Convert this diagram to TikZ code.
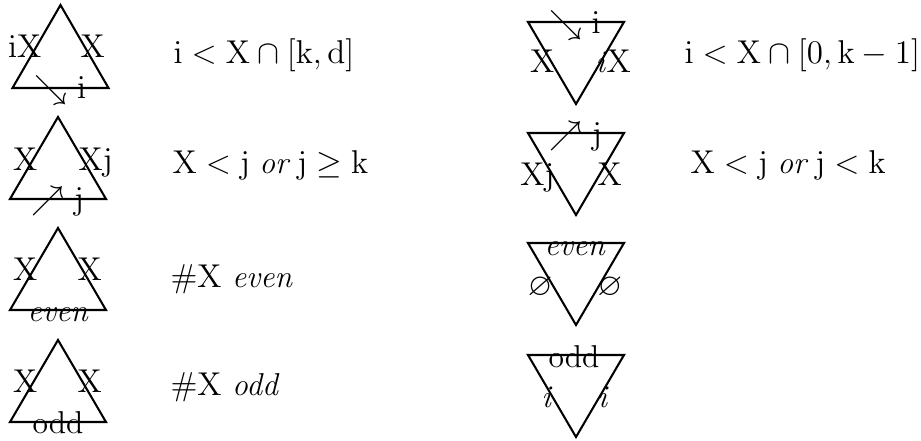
\documentclass[tikz,border=0pt]{standalone}
\usepackage{amssymb}
\newcommand{\rmv}[1]{\mathrm{#1}}
\begin{document}
\begin{tikzpicture}[x=0.3636pt,y=-0.3636pt,
  every node/.style={font=\fontsize{11.5}{14}\selectfont},
  tri/.style={draw,line width=0.75pt,line join=miter},
  lab/.style={inner sep=0pt},
  lbl/.style={lab,anchor=base east},
  rbl/.style={lab,anchor=base west},
  mbl/.style={lab,anchor=base},
  txt/.style={inner sep=0pt,anchor=base west}]
\useasboundingbox (0,0) rectangle (921,440);
% left column triangles
\draw[tri] (12.5,88) -- (60.5,5) -- (108.5,88) -- cycle;
\draw[tri] (10,199) -- (58,117) -- (106,199) -- cycle;
\draw[tri] (10,310) -- (58,228) -- (106,310) -- cycle;
\draw[tri] (10,422) -- (58,340) -- (106,422) -- cycle;
% right column triangles
\draw[tri] (528,22) -- (624,22) -- (576,104) -- cycle;
\draw[tri] (528,133) -- (624,133) -- (576,215) -- cycle;
\draw[tri] (528,243) -- (624,243) -- (576,325) -- cycle;
\draw[tri] (528,355) -- (624,355) -- (576,437) -- cycle;
% T1
\node[lbl] (t1l) at (42,57) {$\rmv{iX}$};
\node[rbl] (t1r) at (80,57) {$\rmv{X}$};
\node[mbl] (t1b) at (60.5,98) {$\searrow \rmv{i}$};
% T2
\node[lbl] (t2l) at (38,170) {$\rmv{X}$};
\node[rbl] (t2r) at (78,170) {$\rmv{Xj}$};
\node[mbl] (t2b) at (58,209) {$\nearrow \rmv{j}$};
% T3
\node[lbl] (t3l) at (38,280) {$\rmv{X}$};
\node[rbl] (t3r) at (77,280) {$\rmv{X}$};
\node[mbl] (t3b) at (58,321) {\textit{even}};
% T4
\node[lbl] (t4l) at (38,392) {$\rmv{X}$};
\node[rbl] (t4r) at (77,392) {$\rmv{X}$};
\node[mbl] (t4b) at (58,433) {odd};
% T5
\node[lbl] (t5l) at (555,72) {$\rmv{X}$};
\node[rbl] (t5r) at (595,72) {\textit{i}$\rmv{X}$};
\node[mbl] (t5t) at (575,33) {$\searrow \rmv{i}$};
% T6
\node[lbl] (t6l) at (555,185) {$\rmv{Xj}$};
\node[rbl] (t6r) at (597,185) {$\rmv{X}$};
\node[mbl] (t6t) at (576,144) {$\nearrow \rmv{j}$};
% T7
\node[lbl] (t7l) at (553,295) {$\varnothing$};
\node[rbl] (t7r) at (597,295) {$\varnothing$};
\node[mbl] (t7t) at (575,255) {\textit{even}};
% T8
\node[lbl] (t8l) at (553,407) {\textit{i}};
\node[rbl] (t8r) at (597,407) {\textit{i}};
\node[mbl] (t8t) at (574,367) {odd};
% texts
\node[txt] (c1) at (173,63) {$\rmv{i} < \rmv{X} \cap [\rmv{k}, \rmv{d}]$};
\node[txt] (c2) at (684,63) {$\rmv{i} < \rmv{X} \cap [0, \rmv{k} - 1]$};
\node[txt] (c3) at (172,173) {$\rmv{X} < \rmv{j}\;\textit{or}\;\rmv{j} \geq \rmv{k}$};
\node[txt] (c4) at (690,173) {$\rmv{X} < \rmv{j}\;\textit{or}\;\rmv{j} < \rmv{k}$};
\node[txt] (c5) at (170,287) {$\#\rmv{X}$ \textit{even}};
\node[txt] (c6) at (170,395) {$\#\rmv{X}$ \textit{odd}};
\end{tikzpicture}
\end{document}
